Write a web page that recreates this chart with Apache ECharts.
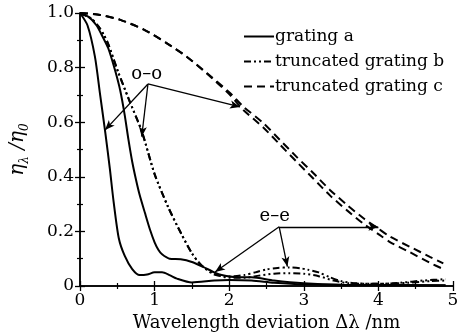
<!DOCTYPE html>
<html>
<head>
<meta charset="utf-8">
<script src="https://cdn.jsdelivr.net/npm/echarts@6/dist/echarts.min.js"></script>
<style>
html,body{margin:0;padding:0;background:#fff}
#chart{width:471px;height:334px}
</style>
</head>
<body>
<div id="chart"></div>
<script>
// curves: [deviation nm, relative efficiency]
var aOO = [[0,1],[0.1,0.955],[0.2,0.84],[0.27,0.70],[0.34,0.56],[0.4,0.43],[0.45,0.31],[0.52,0.175],[0.6,0.11],[0.7,0.062],[0.8,0.04],[0.9,0.042],[1.0,0.05],[1.1,0.05],[1.2,0.04],[1.3,0.027],[1.5,0.013],[1.8,0.02],[2.0,0.022],[2.3,0.02],[2.6,0.012],[3.0,0.006],[4.0,0.003],[4.9,0.002]];
var aEE = [[0,1],[0.12,0.985],[0.22,0.955],[0.3,0.915],[0.38,0.87],[0.47,0.79],[0.54,0.715],[0.6,0.625],[0.65,0.535],[0.7,0.455],[0.75,0.39],[0.8,0.333],[0.87,0.268],[0.94,0.205],[1.0,0.16],[1.05,0.133],[1.1,0.116],[1.2,0.1],[1.35,0.098],[1.5,0.088],[1.65,0.07],[1.8,0.05],[1.9,0.04],[2.1,0.032],[2.3,0.032],[2.6,0.02],[3.0,0.01],[3.5,0.005],[4.9,0.003]];
var bOO = [[0,1],[0.15,0.98],[0.25,0.95],[0.32,0.92],[0.38,0.885],[0.51,0.785],[0.65,0.687],[0.83,0.565],[1.0,0.41],[1.18,0.29],[1.36,0.19],[1.5,0.12],[1.63,0.075],[1.8,0.045],[2.0,0.03],[2.2,0.03],[2.4,0.038],[2.6,0.045],[2.8,0.047],[3.0,0.045],[3.2,0.036],[3.4,0.02],[3.6,0.01],[4.0,0.008],[4.4,0.012],[4.7,0.018],[4.9,0.02]];
var bEE = [[0,1],[0.15,0.98],[0.25,0.95],[0.32,0.92],[0.38,0.885],[0.51,0.785],[0.65,0.687],[0.83,0.565],[1.0,0.41],[1.18,0.29],[1.36,0.19],[1.5,0.12],[1.63,0.075],[1.8,0.042],[2.0,0.035],[2.2,0.04],[2.35,0.05],[2.5,0.061],[2.65,0.066],[2.8,0.068],[2.95,0.065],[3.05,0.06],[3.2,0.05],[3.35,0.032],[3.5,0.018],[3.7,0.01],[4.0,0.008],[4.3,0.012],[4.6,0.02],[4.9,0.025]];
var cOO = [[0,1],[0.27,0.993],[0.54,0.975],[0.85,0.94],[1.16,0.89],[1.43,0.84],[1.7,0.78],[2.0,0.71],[2.19,0.657],[2.46,0.596],[2.68,0.535],[2.9,0.474],[3.13,0.413],[3.35,0.352],[3.58,0.297],[3.8,0.248],[4.0,0.21],[4.16,0.18],[4.42,0.144],[4.69,0.107],[4.87,0.083]];
var cEE = [[0,1],[0.27,0.993],[0.54,0.975],[0.85,0.94],[1.16,0.89],[1.43,0.84],[1.7,0.778],[2.0,0.703],[2.19,0.645],[2.46,0.58],[2.68,0.518],[2.9,0.456],[3.13,0.393],[3.35,0.332],[3.58,0.277],[3.8,0.228],[4.0,0.19],[4.16,0.16],[4.42,0.124],[4.69,0.085],[4.87,0.062]];

var legendNames = ['grating a','truncated grating b','truncated grating c'];
var xTicks = [0,1,2,3,4,5];

// annotation arrows: label position, arrow start, arrow ends
var ooLabel = [0.894,0.775];
var ooFrom = [0.911,0.740];
var ooTo = [[0.335,0.571],[0.827,0.547],[2.145,0.656]];
var eeLabel = [2.61,0.255];
var eeFrom = [2.67,0.217];
var eeTo = [[1.81,0.051],[2.78,0.071],[4.0,0.217]];

var serif = 'DejaVu Serif';
var chart = echarts.init(document.getElementById('chart'));

function curve(name, data, type){
  return {name:name, type:'line', data:data, smooth:0.25, symbol:'none', silent:true,
    lineStyle:{color:'#000', width:2, type:type}, itemStyle:{color:'#000'}};
}
var dashDot = [7,3,2,3,2,3];
var dashed = [8,5];

function arrows(from, tos){
  return tos.map(function(t){ return [{coord:from},{coord:t}]; });
}

var tickStyle = {show:true, inside:true, length:5, lineStyle:{color:'#000', width:1.3}};
var minorStyle = {show:true, splitNumber:2, length:3, lineStyle:{color:'#000', width:1.2}};
var lineAx = {show:true, lineStyle:{color:'#000', width:1.5}};

chart.setOption({
  animation:false,
  grid:{left:80, right:18, top:13, bottom:48, containLabel:false, outerBoundsMode:'none'},
  legend:{
    data:legendNames, orient:'vertical', left:243, top:28, itemWidth:30, itemHeight:14, itemGap:8,
    itemStyle:{opacity:0},
    textStyle:{fontFamily:serif, fontSize:17, color:'#000', padding:[0,0,0,-4]}, padding:0, selectedMode:false
  },
  xAxis:[{
    type:'value', min:0, max:5, interval:1, position:'bottom',
    axisLine:lineAx, axisTick:tickStyle, minorTick:minorStyle, splitLine:{show:false},
    axisLabel:{fontFamily:serif, fontSize:17, color:'#000', margin:6,
      formatter:function(v){ return xTicks.indexOf(v) >= 0 ? String(v) : ''; }},
    name:'Wavelength deviation \u0394\u03bb /nm', nameLocation:'middle', nameGap:25,
    nameTextStyle:{fontFamily:serif, fontSize:18, color:'#000'}
  },{
    type:'value', min:0, max:5, interval:1, position:'top',
    axisLine:lineAx, axisTick:tickStyle, minorTick:minorStyle, splitLine:{show:false}, axisLabel:{show:false}
  }],
  yAxis:[{
    type:'value', min:0, max:1, interval:0.2, position:'left',
    axisLine:lineAx, axisTick:tickStyle, minorTick:minorStyle, splitLine:{show:false},
    axisLabel:{fontFamily:serif, fontSize:17, color:'#000', margin:6,
      formatter:function(v){ return v === 0 ? '0' : v.toFixed(1); }},
    name:'{a|\u03b7}{s|\u03bb}{a| /\u03b7}{s|0}', nameLocation:'middle', nameGap:49,
    nameTextStyle:{rich:{
      a:{fontFamily:serif, fontStyle:'italic', fontSize:20, color:'#000', lineHeight:26, verticalAlign:'middle'},
      s:{fontFamily:serif, fontStyle:'italic', fontSize:12, color:'#000', lineHeight:26, verticalAlign:'bottom', padding:[9,0,0,0]}
    }}
  },{
    type:'value', min:0, max:1, interval:0.2, position:'right',
    axisLine:lineAx, axisTick:tickStyle, minorTick:minorStyle, splitLine:{show:false}, axisLabel:{show:false}
  }],
  series:[
    curve('grating a', aOO, 'solid'),
    curve('grating a', aEE, 'solid'),
    curve('truncated grating b', bOO, dashDot),
    curve('truncated grating b', bEE, dashDot),
    curve('truncated grating c', cOO, dashed),
    curve('truncated grating c', cEE, dashed),
    {
      name:'notes', type:'line', data:[], silent:true,
      markLine:{silent:true, animation:false, symbol:['none','arrow'], symbolSize:[6,10],
        lineStyle:{color:'#000', width:1.3, type:'solid'}, label:{show:false},
        data:arrows(ooFrom, ooTo).concat(arrows(eeFrom, eeTo))},
      markPoint:{silent:true, symbol:'circle', symbolSize:1, itemStyle:{color:'rgba(0,0,0,0)'},
        label:{show:true, position:'inside', fontFamily:serif, fontSize:18, color:'#000'},
        data:[{coord:ooLabel, value:'o\u2013o'},{coord:eeLabel, value:'e\u2013e'}]}
    }
  ]
});
</script>
</body>
</html>
